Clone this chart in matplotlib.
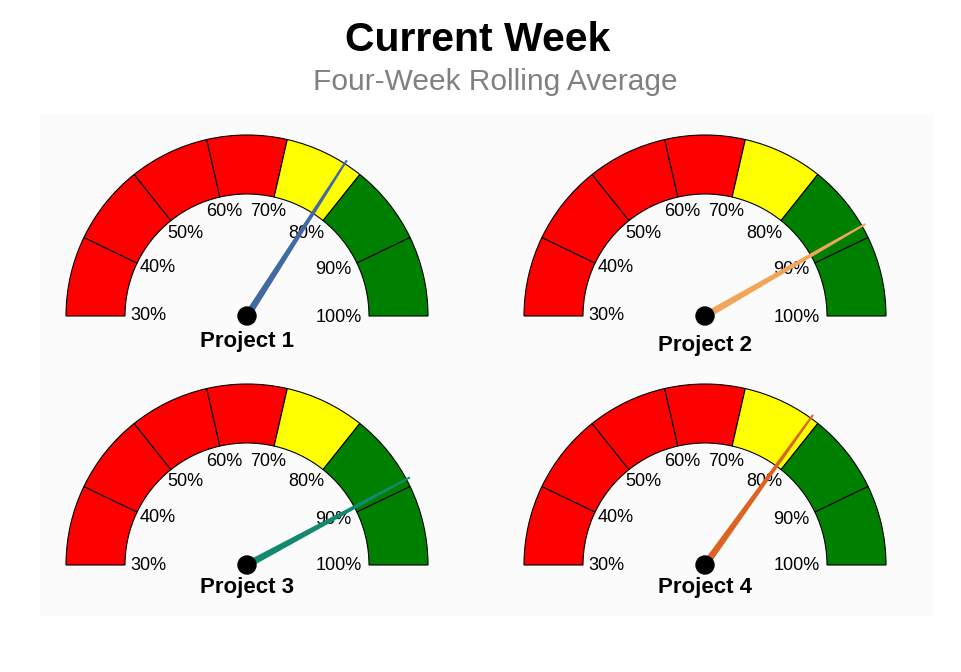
import numpy as np
import matplotlib.pyplot as plt
from matplotlib.patches import Wedge, Polygon, Circle, Rectangle

plt.rcParams['font.family'] = ['Liberation Sans', 'DejaVu Sans']

# gauge data
projects = ['Project 1', 'Project 2', 'Project 3', 'Project 4']
values = [77.7, 88.4, 89.0, 78.9]
needle_colors = ['#4169a3', '#f2a458', '#138a70', '#dc6420']
bounds = [30, 40, 50, 60, 70, 80, 90, 100]
seg_colors = ['#ff0000', '#ff0000', '#ff0000', '#ff0000', '#ffff00', '#008000', '#008000']
tick_labels = ['30%', '40%', '50%', '60%', '70%', '80%', '90%', '100%']

W, H = 961, 672
fig = plt.figure(figsize=(W / 100, H / 100), dpi=100)
ax = fig.add_axes([0, 0, 1, 1])
ax.set_xlim(0, W)
ax.set_ylim(0, H)
ax.set_aspect('equal')
ax.axis('off')

# faint panel behind gauges
ax.add_patch(Rectangle((40, 57), 892, 500, color='#fbfbfb', zorder=0))

centers = [(247, 356), (705, 356), (247, 107), (705, 107)]
label_pos = [(247, 330), (705, 326), (247, 84), (705, 84)]
r_in, r_out = 122, 181
# placement of the tick labels inside the arc, relative to the gauge centre
tick_offsets = [(-99, 0), (-89.5, 48), (-62, 83), (-22.5, 104),
                (21.5, 104), (59.5, 83), (86, 46), (92, -1)]


def val2ang(v):
    return 180 - (v - bounds[0]) / (bounds[-1] - bounds[0]) * 180


for k in range(4):
    cx, cy = centers[k]
    for i in range(len(seg_colors)):
        a1 = val2ang(bounds[i + 1])
        a2 = val2ang(bounds[i])
        ax.add_patch(Wedge((cx, cy), r_out, a1, a2, width=r_out - r_in,
                           facecolor=seg_colors[i], edgecolor='black', lw=0.8, zorder=1))
    for i, lab in enumerate(tick_labels):
        dx, dy = tick_offsets[i]
        ax.text(cx + dx, cy + dy, lab, ha='center', va='center', fontsize=13, color='black', zorder=3)
    # needle
    a = np.radians(val2ang(values[k]))
    L = 185
    ux, uy = np.cos(a), np.sin(a)
    px, py = -uy, ux
    w0, w1 = 3.5, 1.0
    pts = [(cx + px * w0, cy + py * w0),
           (cx + ux * L + px * w1, cy + uy * L + py * w1),
           (cx + ux * L - px * w1, cy + uy * L - py * w1),
           (cx - px * w0, cy - py * w0)]
    ax.add_patch(Polygon(pts, closed=True, facecolor=needle_colors[k], edgecolor='none', zorder=4))
    ax.add_patch(Circle((cx, cy), 9, color='black', zorder=5))
    lx, ly = label_pos[k]
    ax.text(lx, ly, projects[k], ha='center', va='center', fontsize=16, fontweight='bold', zorder=3)

ax.text(478, 632, 'Current Week', ha='center', va='center', fontsize=29.5, fontweight='bold')
ax.text(495, 590, 'Four-Week Rolling Average', ha='center', va='center', fontsize=21.5, color='#808080')

fig.savefig('out.png', dpi=100)
